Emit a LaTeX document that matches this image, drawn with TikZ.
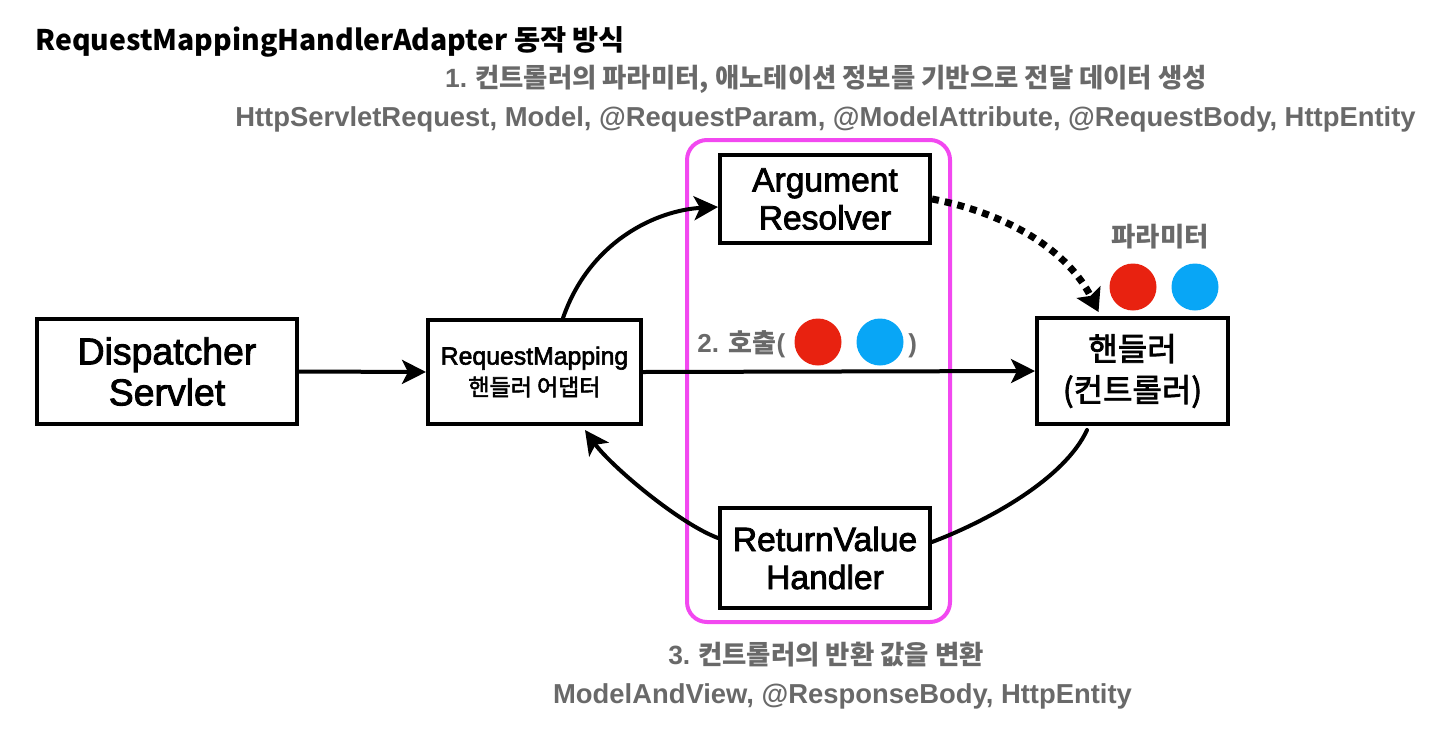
\documentclass[tikz,border=0pt]{standalone}
\usepackage{fontspec}
\setmainfont{Liberation Sans}
\newfontfamily\kr{Noto Sans CJK KR}
\newfontfamily\krm[FakeBold=2.4]{Noto Sans CJK KR}
\newfontfamily\medium[FakeBold=2.4]{Liberation Sans}
\usetikzlibrary{arrows.meta}
\definecolor{txtgray}{RGB}{105,105,105}
\definecolor{mag}{RGB}{242,72,240}
\definecolor{cred}{RGB}{232,34,16}
\definecolor{cblue}{RGB}{8,166,246}
\begin{document}
\begin{tikzpicture}[x=0.5pt,y=-0.5pt,
  box/.style={draw,line width=2pt,align=center,inner sep=0pt},
  conn/.style={line width=2pt,line cap=round},
  tip/.style={-{Stealth[length=12pt,width=12pt,inset=3pt]}},
  dtip/.style={-{Stealth[length=11pt,width=13pt,inset=2pt]}},
  gtext/.style={text=txtgray,inner sep=0pt},
  dot/.style={circle,fill=#1,minimum size=23.5pt,inner sep=0pt}]
\useasboundingbox (0,0) rectangle (1454,744);
% group frame
\node[draw=mag,line width=2pt,rounded corners=10pt,minimum width=131.5pt,minimum height=241pt] (grp) at (818.5,381) {};
% title and captions
\node[anchor=base west,inner sep=0pt,font=\kr\bfseries\fontsize{14.2}{16}\selectfont] (title) at (35,50) {RequestMappingHandlerAdapter 동작 방식};
\node[gtext,anchor=base,font=\kr\bfseries\fontsize{13.2}{15}\selectfont] (l1) at (826,87) {{\rmfamily\bfseries 1.} 컨트롤러의 파라미터, 애노테이션 정보를 기반으로 전달 데이터 생성};
\node[gtext,anchor=base,font=\bfseries\fontsize{13.7}{16}\selectfont] (l2) at (825.5,126) {HttpServletRequest, Model, @RequestParam, @ModelAttribute, @RequestBody, HttpEntity};
\node[gtext,anchor=base,font=\kr\bfseries\fontsize{13.2}{15}\selectfont] (l3) at (826,664) {{\rmfamily\bfseries 3.} 컨트롤러의 반환 값을 변환};
\node[gtext,anchor=base,font=\bfseries\fontsize{13.7}{16}\selectfont] (l4) at (842.5,703) {ModelAndView, @ResponseBody, HttpEntity};
% boxes
\node[box,minimum width=130pt,minimum height=52.5pt,font=\medium\fontsize{18.7}{20.5}\selectfont] (ds) at (167,371.5) {Dispatcher\\Servlet};
\node[box,minimum width=106.5pt,minimum height=52pt,font=\medium\fontsize{12.4}{15.5}\selectfont] (rm) at (534.5,372) {RequestMapping\\{\krm\fontsize{11.5}{12}\selectfont 핸들러 어댑터}};
\node[box,minimum width=105pt,minimum height=44pt,font=\medium\fontsize{16.8}{19}\selectfont] (ar) at (825,199) {Argument\\Resolver};
\node[box,minimum width=105pt,minimum height=50pt,font=\medium\fontsize{16.8}{19}\selectfont] (rv) at (825,558) {ReturnValue\\Handler};
\node[box,minimum width=95.5pt,minimum height=53pt,font=\krm\fontsize{16}{20.5}\selectfont] (hd) at (1132.5,371) {핸들러\\(컨트롤러)};
% call label
\node[gtext,anchor=base west,font=\bfseries\fontsize{13}{16}\selectfont] (call) at (697,352) {2. {\kr 호출}(};
\node[dot=cred] (rc1) at (818,342) {};
\node[dot=cblue] (bc1) at (880,342) {};
\node[gtext,anchor=base west,font=\bfseries\fontsize{13}{16}\selectfont] (callend) at (908,352) {)};
% parameter label
\node[gtext,anchor=base,font=\kr\bfseries\fontsize{13.2}{14}\selectfont] (param) at (1160,246) {파라미터};
\node[dot=cred] (rc2) at (1133,287) {};
\node[dot=cblue] (bc2) at (1195,287) {};
% connectors
\draw[conn,tip] (ds.east) -- (rm.west);
\draw[conn,tip] (rm.east) -- (hd.west);
\draw[conn,tip] ([xshift=14.25pt]rm.north) .. controls +(27,-78) and +(-60,3) .. ([yshift=-4pt]ar.west);
\draw[line width=3.5pt,dash pattern=on 3.5pt off 3pt,dtip] (ar.east) .. controls +(78,15) and +(-30,-60) .. ([xshift=-17pt,yshift=2pt]hd.north);
\draw[conn] ([xshift=-22.75pt,yshift=-2pt]hd.south) .. controls +(-22,48) and +(58,-22) .. ([yshift=8pt]rv.east);
\draw[conn,tip] ([yshift=10pt]rv.west) .. controls +(-40,-15) and +(25,35) .. ([xshift=25.25pt,yshift=-2pt]rm.south);
\end{tikzpicture}
\end{document}
